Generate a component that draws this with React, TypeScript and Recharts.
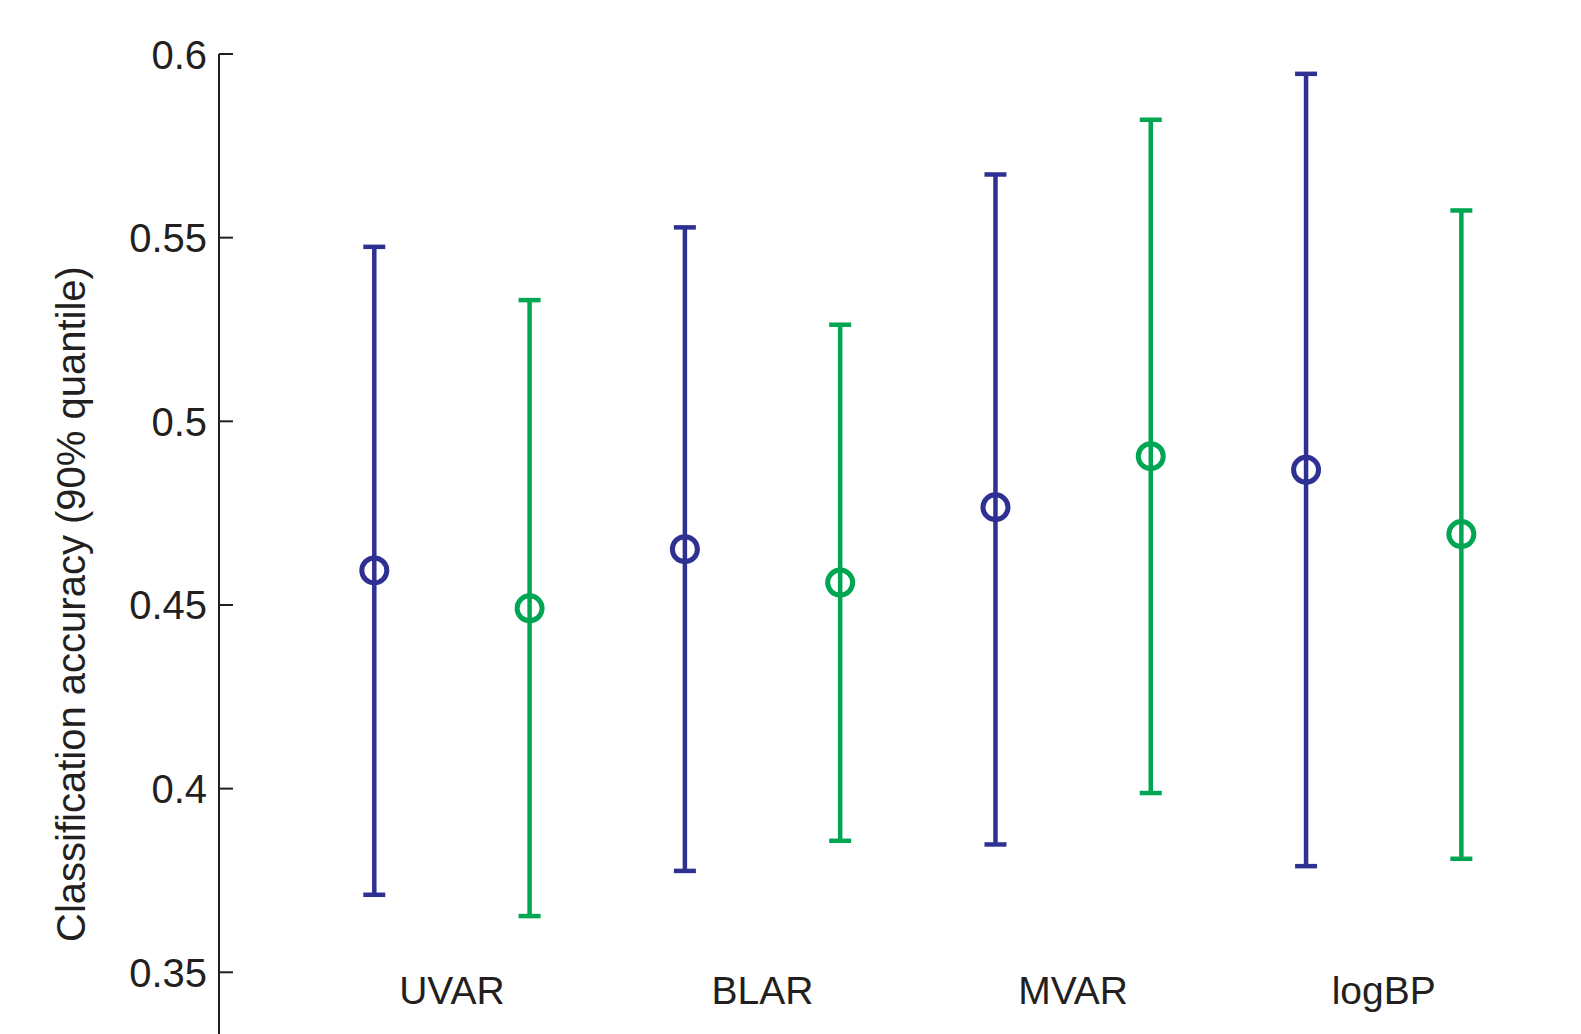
import React from 'react';
import { ScatterChart, Scatter, XAxis, YAxis, ErrorBar } from 'recharts';

const categories = ['UVAR', 'BLAR', 'MVAR', 'logBP'];

// method A (blue) and method B (green): median with 90% quantile range
const blueMid = [0.4594, 0.4652, 0.4766, 0.4868];
const blueLow = [0.3711, 0.3776, 0.3848, 0.3789];
const blueHigh = [0.5475, 0.5528, 0.5672, 0.5946];

const greenMid = [0.4491, 0.4561, 0.4905, 0.4693];
const greenLow = [0.3653, 0.3858, 0.3988, 0.3809];
const greenHigh = [0.533, 0.5263, 0.5821, 0.5574];

const yTicks = [0.35, 0.4, 0.45, 0.5, 0.55, 0.6];

const BLUE = '#2E3192';
const GREEN = '#00A651';
const INK = '#231F20';
const FONT = '"Liberation Sans", Arial, Helvetica, sans-serif';

const build = (mid: number[], low: number[], high: number[], shift: number) =>
  mid.map((m, i) => ({ x: i + shift, y: m, err: [m - low[i], high[i] - m] }));

const blueData = build(blueMid, blueLow, blueHigh, -0.25);
const greenData = build(greenMid, greenLow, greenHigh, 0.25);

const ringShape = (color: string) => (props: any) => (
  <circle cx={props.cx} cy={props.cy} r={12.5} fill="none" stroke={color} strokeWidth={5} />
);

function YTick(props: any) {
  const { x, y, payload } = props;
  return (
    <g>
      <line x1={x} x2={x + 14} y1={y} y2={y} stroke={INK} strokeWidth={2} />
      <text x={x - 12} y={y + 14.5} textAnchor="end" fontSize={40} fontFamily={FONT} fill={INK}>
        {String(payload.value)}
      </text>
    </g>
  );
}

function XTick(props: any) {
  const { x, y, payload } = props;
  return (
    <text x={x} y={y - 30} textAnchor="middle" fontSize={39} fontFamily={FONT} fill={INK}>
      {categories[payload.value]}
    </text>
  );
}

function YLabel() {
  return (
    <text
      transform="translate(77,596) rotate(-90)"
      textAnchor="middle"
      fontSize={40}
      fontFamily={FONT}
      fill={INK}
    >
      Classification accuracy (90% quantile)
    </text>
  );
}

export default function App(): JSX.Element {
  return (
    <div style={{ width: 1573, height: 1026, overflow: 'hidden', background: '#fff' }}>
      <ScatterChart width={1573} height={1060} margin={{ top: 46, right: 42, left: 0, bottom: 0 }}>
        <XAxis
          type="number"
          dataKey="x"
          domain={[-0.75, 3.5]}
          ticks={[0, 1, 2, 3]}
          allowDataOverflow
          axisLine={false}
          tickLine={false}
          tickSize={0}
          tickMargin={0}
          height={34}
          tick={<XTick />}
          interval={0}
        />
        <YAxis
          type="number"
          dataKey="y"
          domain={[0.3332, 0.6]}
          ticks={yTicks}
          allowDataOverflow
          width={211}
          axisLine={{ stroke: INK, strokeWidth: 2 }}
          tickLine={false}
          tickSize={0}
          tickMargin={0}
          tick={<YTick />}
          interval={0}
          label={<YLabel />}
        />
        <Scatter data={blueData} fill={BLUE} shape={ringShape(BLUE)} isAnimationActive={false}>
          <ErrorBar dataKey="err" direction="y" width={11} stroke={BLUE} strokeWidth={4.5} isAnimationActive={false} />
        </Scatter>
        <Scatter data={greenData} fill={GREEN} shape={ringShape(GREEN)} isAnimationActive={false}>
          <ErrorBar dataKey="err" direction="y" width={11} stroke={GREEN} strokeWidth={4.5} isAnimationActive={false} />
        </Scatter>
      </ScatterChart>
    </div>
  );
}
